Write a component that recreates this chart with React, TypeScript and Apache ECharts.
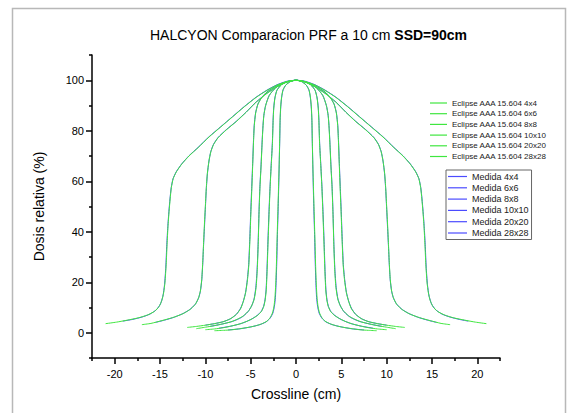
import React, { useEffect, useRef } from "react";
import * as echarts from "echarts";

const FONT = "'Liberation Sans', Arial, sans-serif";

const TITLE_MAIN = "HALCYON Comparacion PRF a 10 cm ";
const TITLE_BOLD = "SSD=90cm";
const X_NAME = "Crossline (cm)";
const Y_NAME = "Dosis relativa (%)";

const X_MAJOR = [-20, -15, -10, -5, 0, 5, 10, 15, 20];
const X_MINOR = [-22.5, -17.5, -12.5, -7.5, -2.5, 2.5, 7.5, 12.5, 17.5, 22.5];
const Y_MAJOR = [0, 20, 40, 60, 80, 100];
const Y_MINOR = [-10, 10, 30, 50, 70, 90, 110];

const ECLIPSE_NAMES = [
  "Eclipse AAA 15.604 4x4",
  "Eclipse AAA 15.604 6x6",
  "Eclipse AAA 15.604 8x8",
  "Eclipse AAA 15.604 10x10",
  "Eclipse AAA 15.604 20x20",
  "Eclipse AAA 15.604 28x28",
];
const MEDIDA_NAMES = [
  "Medida 4x4",
  "Medida 6x6",
  "Medida 8x8",
  "Medida 10x10",
  "Medida 20x20",
  "Medida 28x28",
];

// Eclipse profiles [x (cm), dose (%)]
const E4 = [
  [-9.0, 0.8], [-8.0, 0.95], [-7.0, 1.2], [-6.2, 1.6], [-5.3, 2.1], [-4.5, 2.7], [-3.8, 3.5], [-3.2, 4.6], [-2.85, 6.0], [-2.6, 7.8], [-2.44, 10.2], [-2.33, 13.5], [-2.24, 19], [-2.16, 27], [-2.08, 38], [-2.0, 48], [-1.93, 57], [-1.86, 66], [-1.8, 76], [-1.76, 84], [-1.7, 89], [-1.6, 93], [-1.45, 96], [-1.15, 98], [-0.6, 99.5], [0, 100],
  [0.6, 99.5], [1.15, 98], [1.45, 96], [1.6, 93], [1.7, 89], [1.76, 84], [1.8, 76], [1.86, 66], [1.93, 57], [2.0, 48], [2.08, 38], [2.16, 27], [2.24, 19], [2.33, 13.5], [2.44, 10.2], [2.6, 7.8], [2.85, 6.0], [3.2, 4.6], [3.8, 3.5], [4.5, 2.7], [5.3, 2.1], [6.2, 1.6], [7.0, 1.2], [8.0, 0.95], [8.9, 0.8],
];
const E6 = [
  [-10.0, 1.2], [-9.0, 1.5], [-8.0, 2.0], [-7.2, 2.6], [-6.3, 3.4], [-5.5, 4.4], [-4.8, 5.6], [-4.2, 7.0], [-3.8, 8.5], [-3.55, 10.5], [-3.4, 13], [-3.28, 17], [-3.18, 25], [-3.08, 36], [-2.96, 48], [-2.85, 58], [-2.72, 67], [-2.6, 75], [-2.52, 84], [-2.45, 89], [-2.32, 93], [-2.1, 96], [-1.6, 98.2], [-0.9, 99.4], [0, 100],
  [0.9, 99.4], [1.6, 98.2], [2.1, 96], [2.32, 93], [2.45, 89], [2.52, 84], [2.6, 75], [2.72, 67], [2.85, 58], [2.96, 48], [3.08, 36], [3.18, 25], [3.28, 17], [3.4, 13], [3.55, 10.5], [3.8, 8.5], [4.2, 7.0], [4.8, 5.6], [5.5, 4.4], [6.3, 3.4], [7.2, 2.6], [8.0, 2.0], [9.0, 1.5], [10.0, 1.2],
];
const E8 = [
  [-11.0, 1.6], [-10.0, 2.2], [-9.0, 2.8], [-8.1, 3.5], [-7.2, 4.3], [-6.5, 5.3], [-5.8, 6.7], [-5.2, 8.8], [-4.85, 11], [-4.6, 13.5], [-4.4, 18], [-4.27, 25], [-4.17, 35], [-4.07, 48], [-3.97, 58], [-3.85, 66], [-3.75, 74], [-3.65, 81], [-3.55, 86], [-3.35, 90], [-2.95, 94], [-2.25, 97], [-1.2, 99.1], [0, 100],
  [1.2, 99.1], [2.25, 97], [2.95, 94], [3.35, 90], [3.55, 86], [3.65, 81], [3.75, 74], [3.85, 66], [3.97, 58], [4.07, 48], [4.17, 35], [4.27, 25], [4.4, 18], [4.6, 13.5], [4.85, 11], [5.2, 8.8], [5.8, 6.7], [6.5, 5.3], [7.2, 4.3], [8.1, 3.5], [9.0, 2.8], [10.0, 2.2], [11.0, 1.6],
];
const E10 = [
  [-12.0, 2.1], [-11.0, 2.5], [-10.0, 3.0], [-9.0, 3.6], [-8.1, 4.3], [-7.3, 5.4], [-6.6, 7.2], [-6.1, 9.6], [-5.8, 12.5], [-5.55, 16], [-5.35, 21], [-5.2, 27], [-5.08, 37], [-4.97, 48], [-4.86, 58], [-4.76, 68], [-4.68, 76], [-4.6, 82], [-4.45, 87], [-4.2, 90.5], [-3.8, 93], [-3.2, 95.3], [-2.2, 97.6], [-1.1, 99.3], [0, 100],
  [1.1, 99.3], [2.2, 97.6], [3.2, 95.3], [3.8, 93], [4.2, 90.5], [4.45, 87], [4.6, 82], [4.68, 76], [4.76, 68], [4.86, 58], [4.97, 48], [5.08, 37], [5.2, 27], [5.35, 21], [5.55, 16], [5.8, 12.5], [6.1, 9.6], [6.6, 7.2], [7.3, 5.4], [8.1, 4.3], [9.0, 3.6], [10.0, 3.0], [11.0, 2.5], [12.0, 2.1],
];
const E20 = [
  [-17.0, 3.2], [-16.0, 3.7], [-14.8, 4.8], [-13.6, 6.0], [-12.5, 7.5], [-11.7, 9.2], [-11.1, 11.3], [-10.75, 13.8], [-10.55, 16.5], [-10.4, 21], [-10.3, 27], [-10.2, 35], [-10.1, 43], [-9.97, 52], [-9.9, 57], [-9.78, 63], [-9.6, 68], [-9.4, 71.6], [-9.1, 74.5], [-8.6, 77.2], [-7.7, 80.3], [-6.6, 83.6], [-5.5, 87.3], [-4.4, 91.3], [-3.2, 94.8], [-2.0, 97.6], [-0.9, 99.5], [0, 100],
  [0.9, 99.5], [2.0, 97.6], [3.2, 94.8], [4.4, 91.3], [5.5, 87.3], [6.6, 83.6], [7.7, 80.3], [8.6, 77.2], [9.1, 74.5], [9.4, 71.6], [9.6, 68], [9.78, 63], [9.9, 57], [9.97, 52], [10.1, 43], [10.2, 35], [10.3, 27], [10.4, 21], [10.55, 16.5], [10.75, 13.8], [11.1, 11.3], [11.7, 9.2], [12.5, 7.5], [13.6, 6.0], [14.8, 4.8], [16.0, 3.7], [17.0, 3.2],
];
const E28 = [
  [-21.0, 3.6], [-19.8, 4.2], [-18.6, 5.0], [-17.4, 5.9], [-16.4, 7.0], [-15.6, 8.5], [-15.1, 10.4], [-14.8, 12.8], [-14.6, 15.8], [-14.45, 20], [-14.32, 27], [-14.22, 35], [-14.12, 42], [-14.0, 48], [-13.88, 53], [-13.75, 57.5], [-13.55, 61], [-13.2, 63.7], [-12.6, 66.8], [-11.8, 70], [-10.8, 73.3], [-9.6, 77.5], [-8.3, 81.5], [-7.0, 85.5], [-5.7, 89.5], [-4.4, 93.2], [-3.2, 96], [-2.1, 98.1], [-1.0, 99.5], [0, 100],
  [1.0, 99.5], [2.1, 98.1], [3.2, 96], [4.4, 93.2], [5.7, 89.5], [7.0, 85.5], [8.3, 81.5], [9.6, 77.5], [10.8, 73.3], [11.8, 70], [12.6, 66.8], [13.2, 63.7], [13.55, 61], [13.75, 57.5], [13.88, 53], [14.0, 48], [14.12, 42], [14.22, 35], [14.32, 27], [14.45, 20], [14.6, 15.8], [14.8, 12.8], [15.1, 10.4], [15.6, 8.5], [16.4, 7.0], [17.4, 5.9], [18.6, 5.0], [19.8, 4.2], [21.0, 3.6],
];

// Measured profiles [x (cm), dose (%)]
const M4 = [
  [-7.5, 1.1], [-6.2, 1.55], [-5.0, 2.3], [-4.0, 3.2], [-3.3, 4.3], [-2.85, 5.8], [-2.55, 7.8], [-2.38, 10.5], [-2.27, 14], [-2.19, 20], [-2.12, 28], [-2.04, 40], [-1.96, 50], [-1.88, 62], [-1.8, 75], [-1.75, 84], [-1.68, 89.5], [-1.58, 93.3], [-1.42, 96.2], [-1.1, 98.2], [-0.55, 99.6], [0, 100],
  [0.55, 99.6], [1.1, 98.2], [1.42, 96.2], [1.58, 93.3], [1.68, 89.5], [1.75, 84], [1.8, 75], [1.88, 62], [1.96, 50], [2.04, 40], [2.12, 28], [2.19, 20], [2.27, 14], [2.38, 10.5], [2.55, 7.8], [2.85, 5.8], [3.3, 4.3], [4.0, 3.2], [5.0, 2.3], [6.2, 1.55], [7.5, 1.1],
];
const M6 = [
  [-8.5, 1.8], [-7.2, 2.6], [-6.0, 3.7], [-5.0, 5.2], [-4.3, 6.8], [-3.85, 8.4], [-3.58, 10.4], [-3.42, 13], [-3.3, 17], [-3.2, 25], [-3.1, 36], [-2.98, 48], [-2.86, 58], [-2.73, 67], [-2.61, 75], [-2.53, 84], [-2.46, 89], [-2.33, 93], [-2.1, 96.1], [-1.6, 98.3], [-0.9, 99.5], [0, 100],
  [0.9, 99.5], [1.6, 98.3], [2.1, 96.1], [2.33, 93], [2.46, 89], [2.53, 84], [2.61, 75], [2.73, 67], [2.86, 58], [2.98, 48], [3.1, 36], [3.2, 25], [3.3, 17], [3.42, 13], [3.58, 10.4], [3.85, 8.4], [4.3, 6.8], [5.0, 5.2], [6.0, 3.7], [7.2, 2.6], [8.5, 1.8],
];
const M8 = [
  [-9.5, 2.5], [-8.2, 3.4], [-7.0, 4.5], [-6.0, 6.1], [-5.3, 8.3], [-4.9, 10.6], [-4.63, 13.3], [-4.43, 18], [-4.29, 25], [-4.18, 35], [-4.08, 48], [-3.98, 58], [-3.86, 66], [-3.76, 74], [-3.66, 81], [-3.55, 86], [-3.35, 90], [-2.95, 94], [-2.25, 97], [-1.2, 99.1], [0, 100],
  [1.2, 99.1], [2.25, 97], [2.95, 94], [3.35, 90], [3.55, 86], [3.66, 81], [3.76, 74], [3.86, 66], [3.98, 58], [4.08, 48], [4.18, 35], [4.29, 25], [4.43, 18], [4.63, 13.3], [4.9, 10.6], [5.3, 8.3], [6.0, 6.1], [7.0, 4.5], [8.2, 3.4], [9.5, 2.5],
];
const M10 = [
  [-10.0, 3.0], [-9.0, 3.6], [-8.0, 4.4], [-7.2, 5.6], [-6.55, 7.4], [-6.1, 9.8], [-5.8, 12.6], [-5.56, 16], [-5.37, 21], [-5.22, 27], [-5.1, 37], [-4.99, 48], [-4.88, 58], [-4.77, 68], [-4.69, 76], [-4.61, 82], [-4.46, 87], [-4.2, 90.6], [-3.8, 93.1], [-3.2, 95.4], [-2.2, 97.7], [-1.1, 99.3], [0, 100],
  [1.1, 99.3], [2.2, 97.7], [3.2, 95.4], [3.8, 93.1], [4.2, 90.6], [4.46, 87], [4.61, 82], [4.69, 76], [4.77, 68], [4.88, 58], [4.99, 48], [5.1, 37], [5.22, 27], [5.37, 21], [5.56, 16], [5.8, 12.6], [6.1, 9.8], [6.55, 7.4], [7.2, 5.6], [8.0, 4.4], [9.0, 3.6], [10.0, 3.0],
];
const M20 = [
  [-15.5, 4.1], [-14.5, 5.0], [-13.4, 6.2], [-12.4, 7.7], [-11.6, 9.5], [-11.05, 11.6], [-10.72, 14], [-10.53, 16.8], [-10.39, 21], [-10.29, 27], [-10.19, 35], [-10.08, 43], [-9.96, 52], [-9.89, 57], [-9.77, 63], [-9.6, 68], [-9.4, 71.7], [-9.1, 74.6], [-8.6, 77.3], [-7.7, 80.4], [-6.6, 83.7], [-5.5, 87.4], [-4.4, 91.4], [-3.2, 94.9], [-2.0, 97.7], [-0.9, 99.5], [0, 100],
  [0.9, 99.5], [2.0, 97.7], [3.2, 94.9], [4.4, 91.4], [5.5, 87.4], [6.6, 83.7], [7.7, 80.4], [8.6, 77.3], [9.1, 74.6], [9.4, 71.7], [9.6, 68], [9.77, 63], [9.89, 57], [9.96, 52], [10.08, 43], [10.19, 35], [10.29, 27], [10.39, 21], [10.53, 16.8], [10.72, 14], [11.05, 11.6], [11.6, 9.5], [12.4, 7.7], [13.4, 6.2], [14.5, 5.0], [15.5, 4.1],
];
const M28 = [
  [-19.1, 4.6], [-18.0, 5.3], [-17.0, 6.2], [-16.1, 7.4], [-15.4, 9.1], [-14.95, 11.4], [-14.68, 14.5], [-14.5, 19], [-14.36, 26], [-14.25, 35], [-14.14, 42], [-14.02, 48], [-13.9, 53], [-13.76, 57.5], [-13.56, 61], [-13.2, 63.8], [-12.6, 66.9], [-11.8, 70.1], [-10.8, 73.4], [-9.6, 77.6], [-8.3, 81.6], [-7.0, 85.6], [-5.7, 89.6], [-4.4, 93.3], [-3.2, 96.1], [-2.1, 98.2], [-1.0, 99.6], [0, 100],
  [1.0, 99.6], [2.1, 98.2], [3.2, 96.1], [4.4, 93.3], [5.7, 89.6], [7.0, 85.6], [8.3, 81.6], [9.6, 77.6], [10.8, 73.4], [11.8, 70.1], [12.6, 66.9], [13.2, 63.8], [13.56, 61], [13.76, 57.5], [13.9, 53], [14.02, 48], [14.14, 42], [14.25, 35], [14.36, 26], [14.5, 19], [14.68, 14.5], [14.95, 11.4], [15.4, 9.1], [16.1, 7.4], [17.0, 6.2], [18.0, 5.3], [19.0, 4.6],
];

const ECLIPSE_DATA = [E4, E6, E8, E10, E20, E28];
const MEDIDA_DATA = [M4, M6, M8, M10, M20, M28];
const ECLIPSE_COLOR = "#3fe63f";
const MEDIDA_COLOR = "#4b4bff";

export default function App() {
  const ref = useRef<HTMLDivElement>(null);

  useEffect(() => {
    if (!ref.current) return;
    const chart = echarts.init(ref.current, undefined, { renderer: "svg" });

    const medidaSeries = MEDIDA_NAMES.map((name, i) => ({
      name,
      type: "line",
      xAxisIndex: 0,
      yAxisIndex: 0,
      data: MEDIDA_DATA[i],
      symbol: "none",
      smooth: 0.2,
      lineStyle: { color: MEDIDA_COLOR, width: 1 },
      itemStyle: { color: MEDIDA_COLOR },
      z: 2,
    }));
    const eclipseSeries = ECLIPSE_NAMES.map((name, i) => ({
      name,
      type: "line",
      xAxisIndex: 0,
      yAxisIndex: 0,
      data: ECLIPSE_DATA[i],
      symbol: "none",
      smooth: 0.2,
      lineStyle: { color: ECLIPSE_COLOR, width: 1 },
      itemStyle: { color: ECLIPSE_COLOR },
      z: 3,
    }));

    const axisLine = { show: true, onZero: false, lineStyle: { color: "#000", width: 1.5 } };
    const labelStyle = { color: "#000", fontSize: 11, fontFamily: FONT };

    chart.setOption({
      animation: false,
      backgroundColor: "#fff",
      title: {
        text: `{a|${TITLE_MAIN}}{b|${TITLE_BOLD}}`,
        left: 145,
        top: 23,
        textStyle: {
          fontWeight: "normal",
          rich: {
            a: { fontSize: 14, fontFamily: FONT, color: "#000", fontWeight: "normal" },
            b: { fontSize: 14, fontFamily: FONT, color: "#000", fontWeight: "bold" },
          },
        },
      },
      graphic: [
        {
          type: "rect",
          silent: true,
          z: -1,
          shape: { x: 12.5, y: 8.5, width: 553, height: 420 },
          style: { fill: "none", stroke: "#b8b8b8", lineWidth: 1.5 },
        },
      ],
      legend: [
        {
          data: ECLIPSE_NAMES,
          orient: "vertical",
          left: 430,
          top: 98,
          padding: 0,
          icon: "rect",
          itemWidth: 17,
          itemHeight: 1.2,
          itemGap: 0.7,
          selectedMode: false,
          itemStyle: { color: ECLIPSE_COLOR },
          textStyle: { fontSize: 8, fontFamily: FONT, color: "#222", lineHeight: 10 },
        },
        {
          data: MEDIDA_NAMES,
          orient: "vertical",
          left: 446,
          top: 170,
          padding: [1, 3, 1, 2],
          borderColor: "#666",
          borderWidth: 1,
          icon: "rect",
          itemWidth: 19,
          itemHeight: 1.2,
          itemGap: 0.3,
          selectedMode: false,
          itemStyle: { color: MEDIDA_COLOR },
          textStyle: { fontSize: 9, fontFamily: FONT, color: "#222", lineHeight: 11 },
        },
      ],
      grid: { left: 92, right: 67, top: 55, bottom: 55, containLabel: false },
      xAxis: [
        {
          type: "value",
          min: -22.5,
          max: 22.5,
          position: "bottom",
          name: X_NAME,
          nameLocation: "middle",
          nameGap: 29,
          nameTextStyle: { fontSize: 14, fontFamily: FONT, color: "#000" },
          axisLine,
          axisTick: { show: true, customValues: X_MAJOR, length: 6, lineStyle: { color: "#000", width: 1.5 } },
          axisLabel: { ...labelStyle, customValues: X_MAJOR, margin: 10 },
          splitLine: { show: false },
        },
        {
          type: "value",
          min: -22.5,
          max: 22.5,
          position: "bottom",
          axisLine: { show: false, onZero: false },
          axisTick: { show: true, customValues: X_MINOR, length: 3, lineStyle: { color: "#000", width: 1.5 } },
          axisLabel: { show: false },
          splitLine: { show: false },
        },
      ],
      yAxis: [
        {
          type: "value",
          min: -10,
          max: 110,
          position: "left",
          name: Y_NAME,
          nameLocation: "middle",
          nameGap: 46,
          nameTextStyle: { fontSize: 14, fontFamily: FONT, color: "#000" },
          axisLine,
          axisTick: { show: true, customValues: Y_MAJOR, length: 6, lineStyle: { color: "#000", width: 1.5 } },
          axisLabel: { ...labelStyle, customValues: Y_MAJOR, margin: 8 },
          splitLine: { show: false },
        },
        {
          type: "value",
          min: -10,
          max: 110,
          position: "left",
          axisLine: { show: false, onZero: false },
          axisTick: { show: true, customValues: Y_MINOR, length: 3, lineStyle: { color: "#000", width: 1.5 } },
          axisLabel: { show: false },
          splitLine: { show: false },
        },
      ],
      series: [...medidaSeries, ...eclipseSeries],
    });

    return () => chart.dispose();
  }, []);

  return (
    <div
      ref={ref}
      style={{ position: "fixed", left: 0, top: 0, width: 567, height: 413, background: "#fff" }}
    />
  );
}
